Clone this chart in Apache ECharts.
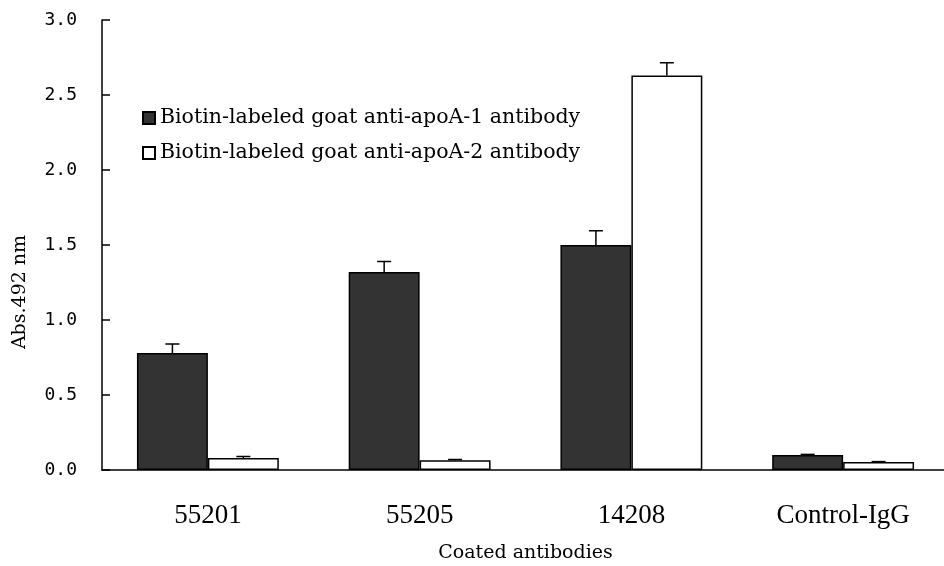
<!DOCTYPE html>
<html><head><meta charset="utf-8">
<script src="https://cdn.jsdelivr.net/npm/echarts@6/dist/echarts.min.js"></script>
<style>html,body{margin:0;padding:0;background:#fff}#c{width:944px;height:566px}</style>
</head><body><div id="c"></div>
<script>
const categories = ['55201', '55205', '14208', 'Control-IgG'];
const seriesNames = ['Biotin-labeled goat anti-apoA-1 antibody', 'Biotin-labeled goat anti-apoA-2 antibody'];
const apoA1 = [0.78, 1.32, 1.50, 0.10];
const apoA1Err = [0.06, 0.07, 0.095, 0.004];
const apoA2 = [0.08, 0.065, 2.63, 0.053];
const apoA2Err = [0.01, 0.005, 0.085, 0.003];
const yTicks = [0, 0.5, 1.0, 1.5, 2.0, 2.5, 3.0];

const serif = 'DejaVu Serif';
const chart = echarts.init(document.getElementById('c'), null, {renderer: 'canvas'});

function errSeries(vals, errs, sign) {
  return {
    type: 'custom',
    z: 5,
    silent: true,
    data: vals.map((v, i) => [i, v, errs[i]]),
    renderItem: function (params, api) {
      const i = api.value(0), v = api.value(1), e = api.value(2);
      const band = api.size([1, 0])[0];
      const base = api.coord([i, v]);
      const top = api.coord([i, v + e]);
      const x = base[0] + sign * band * 0.1675;
      const st = {stroke: '#000', lineWidth: 1.5};
      return {type: 'group', children: [
        {type: 'line', shape: {x1: x, y1: base[1], x2: x, y2: top[1]}, style: st},
        {type: 'line', shape: {x1: x - 7, y1: top[1], x2: x + 7, y2: top[1]}, style: st}
      ]};
    }
  };
}

chart.setOption({
  animation: false,
  backgroundColor: '#fff',
  grid: {left: 102, top: 20, bottom: 96, width: 847, containLabel: false, outerBoundsMode: 'none'},
  legend: {
    orient: 'vertical', left: 137, top: 102,
    icon: 'rect', itemWidth: 12, itemHeight: 12, itemGap: 13, itemTextGap: 6,
    data: seriesNames,
    textStyle: {fontFamily: serif, fontSize: 20.5, color: '#000', lineHeight: 22}
  },
  xAxis: {
    type: 'category', data: categories,
    axisLine: {lineStyle: {color: '#000', width: 1.5}},
    axisTick: {inside: true, length: 9, lineStyle: {color: '#000', width: 1.5}},
    axisLabel: {fontFamily: 'Liberation Serif', fontSize: 27, color: '#000', margin: 32},
    name: 'Coated antibodies', nameLocation: 'middle', nameGap: 74,
    nameTextStyle: {fontFamily: serif, fontSize: 19, color: '#000'}
  },
  yAxis: {
    type: 'value', min: 0, max: 3, interval: 0.5,
    axisLine: {show: true, lineStyle: {color: '#000', width: 1.5}},
    axisTick: {show: true, inside: true, length: 8, lineStyle: {color: '#000', width: 1.5}},
    splitLine: {show: false},
    axisLabel: {fontFamily: 'DejaVu Sans Mono', fontSize: 18, color: '#000', margin: 25,
      formatter: v => yTicks.includes(v) ? v.toFixed(1) : ''}
  },
  graphic: [{
    type: 'text', x: 20, y: 292, rotation: Math.PI / 2,
    style: {text: 'Abs.492 nm', fontFamily: serif, fontSize: 19, fill: '#000',
      textAlign: 'center', textVerticalAlign: 'middle'}
  }],
  series: [
    {name: seriesNames[0], type: 'bar', data: apoA1, barGap: '0%', barCategoryGap: '33%',
      itemStyle: {color: '#333333', borderColor: '#000', borderWidth: 1.5}},
    {name: seriesNames[1], type: 'bar', data: apoA2,
      itemStyle: {color: '#ffffff', borderColor: '#000', borderWidth: 1.5}},
    errSeries(apoA1, apoA1Err, -1),
    errSeries(apoA2, apoA2Err, 1)
  ]
});
</script></body></html>
